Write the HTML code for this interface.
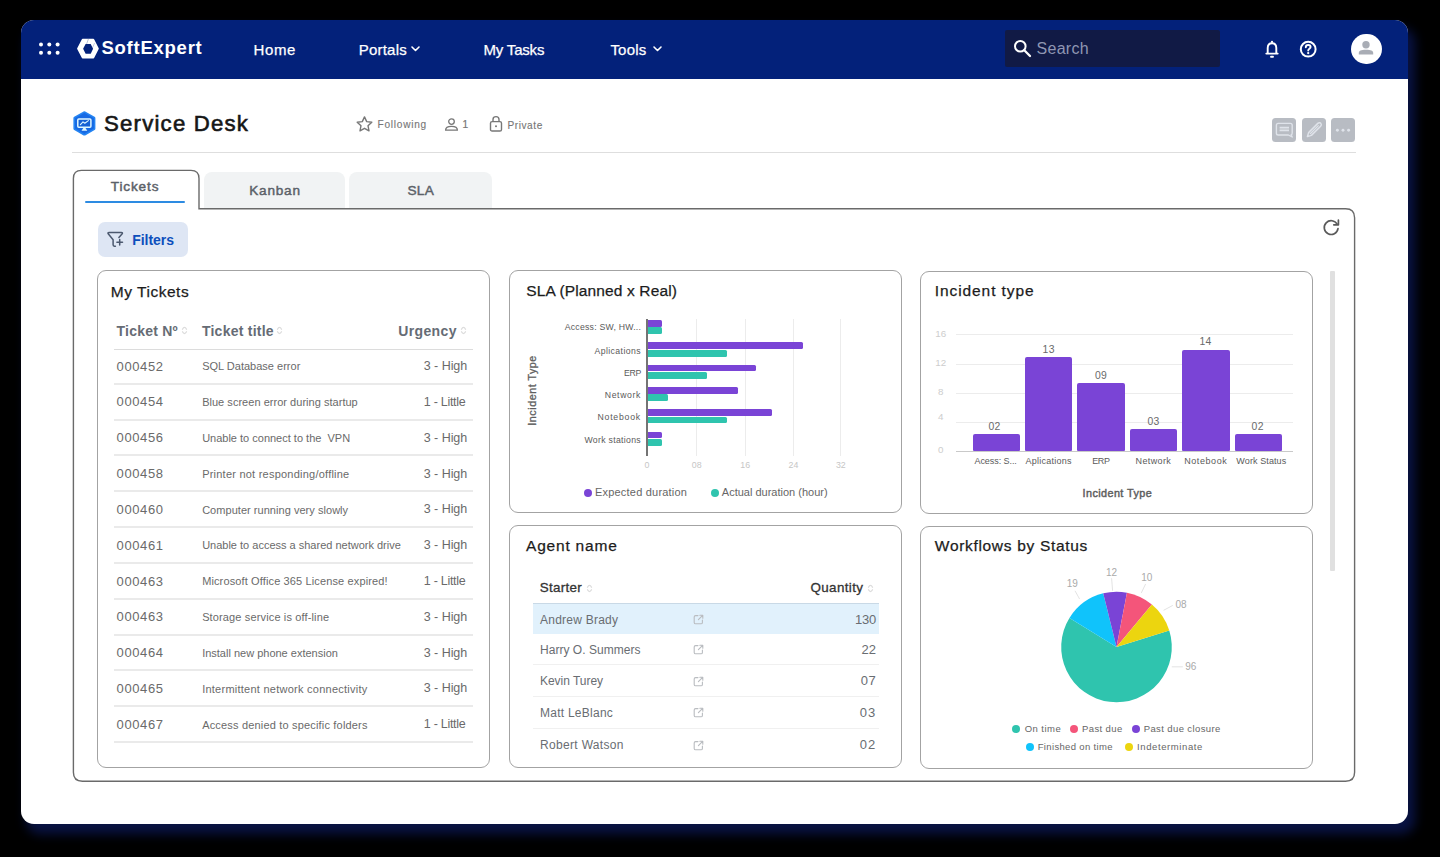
<!DOCTYPE html>
<html>
<head>
<meta charset="utf-8">
<title>Service Desk</title>
<style>
*{box-sizing:border-box;margin:0;padding:0}
html,body{width:1440px;height:857px;overflow:hidden;background:#000}
body{position:relative;font-family:"Liberation Sans",sans-serif;color:#222}
.abs{position:absolute}
svg{position:absolute;overflow:visible}
.win{position:absolute;left:21px;top:20px;width:1387px;height:804px;background:#fff;border-radius:13px;box-shadow:6px 9px 11px 1px rgba(9,20,72,.95)}
.nav{position:absolute;left:21px;top:20px;width:1387px;height:58.5px;background:#03217a;border-radius:13px 13px 0 0}
.t{position:absolute;white-space:pre;line-height:1}
.card{position:absolute;border:1.2px solid #a3a3a3;border-radius:9px;background:#fff}
.hl{position:absolute;height:1.4px;background:#e6e6e6}
.vl{position:absolute;width:1px;background:#ececec}
.bp{position:absolute;background:#7a44d6;border-radius:0 1.5px 1.5px 0}
.bt{position:absolute;background:#2fc4ae;border-radius:0 1.5px 1.5px 0}
.bv{position:absolute;background:#7a44d6;border-radius:2px 2px 1px 1px}
.dot{position:absolute;border-radius:50%}
</style>
</head>
<body>
<div class="win"></div>
<div class="nav"></div>
<svg style="left:38px;top:40px" width="24" height="16" viewBox="38 40 24 16"><g fill="#fff"><circle cx="41" cy="44.4" r="2"/><circle cx="49.3" cy="44.4" r="2"/><circle cx="57.6" cy="44.4" r="2"/><circle cx="41" cy="52.8" r="2"/><circle cx="49.3" cy="52.8" r="2"/><circle cx="57.6" cy="52.8" r="2"/></g></svg>
<svg style="left:0;top:0" width="120" height="80" viewBox="0 0 120 80"><path d="M77.9 48.6 L82.6 39.5 H93.4 L98 48.6 L93.4 57.7 H82.6 Z" fill="#fff" stroke="#fff" stroke-width="1.6" stroke-linejoin="round"/><path d="M83.1 48.8 L85.6 43.9 H90.7 L93.1 48.8 L90.7 53.7 H85.6 Z" fill="#03217a"/><path d="M86.6 44 L88.4 39" stroke="#03217a" stroke-width=".5" opacity=".55"/><path d="M92.6 47.6 L94.6 43" stroke="#03217a" stroke-width=".5" opacity=".45"/></svg>
<svg style="left:411px;top:46px" width="9" height="6" viewBox="0 0 9 6"><path d="M1 1 L4.5 4.5 L8 1" fill="none" stroke="#fff" stroke-width="1.6" stroke-linecap="round" stroke-linejoin="round"/></svg>
<svg style="left:653px;top:46px" width="9" height="6" viewBox="0 0 9 6"><path d="M1 1 L4.5 4.5 L8 1" fill="none" stroke="#fff" stroke-width="1.6" stroke-linecap="round" stroke-linejoin="round"/></svg>
<div class="abs" style="left:1005px;top:30px;width:215px;height:37px;background:#111a45;border-radius:2px"></div>
<svg style="left:1013px;top:39px" width="19" height="19" viewBox="0 0 19 19"><circle cx="7.3" cy="7.3" r="5.3" fill="none" stroke="#fff" stroke-width="2"/><path d="M11.3 11.3 L17 17" stroke="#fff" stroke-width="2.3" stroke-linecap="round"/></svg>
<svg style="left:1264px;top:40px" width="16" height="19" viewBox="0 0 16 19"><path d="M3.7 13.2 V8 C3.7 5 5.5 3.2 8 3.2 C10.5 3.2 12.3 5 12.3 8 V13.2 M2.3 13.6 H13.7" fill="none" stroke="#fff" stroke-width="1.9" stroke-linecap="round" stroke-linejoin="round"/><circle cx="8" cy="1.9" r="1.1" fill="#fff"/><path d="M7 16.8 H9" stroke="#fff" stroke-width="1.9" stroke-linecap="round"/></svg>
<svg style="left:1299px;top:39.6px" width="18" height="18" viewBox="0 0 18 18"><circle cx="9.2" cy="9.2" r="7.4" fill="none" stroke="#fff" stroke-width="2"/><path d="M6.8 7.3 C6.8 5.8 7.9 5 9.2 5 C10.6 5 11.6 5.9 11.6 7.1 C11.6 8.7 9.2 8.8 9.2 10.5" fill="none" stroke="#fff" stroke-width="1.9" stroke-linecap="round"/><circle cx="9.2" cy="13.1" r="1.15" fill="#fff"/></svg>
<div class="abs" style="left:1351px;top:33.5px;width:30.6px;height:30.6px;border-radius:50%;background:#fff"></div>
<svg style="left:1357.3px;top:40px" width="18" height="17" viewBox="0 0 18 17"><circle cx="9" cy="4.8" r="3.7" fill="#a9adb5"/><path d="M1.8 14.6 V13 C1.8 10.6 4 9.8 9 9.8 C14 9.8 16.2 10.6 16.2 13 V14.6 Z" fill="#a9adb5"/></svg>

<svg style="left:0;top:0" width="120" height="150" viewBox="0 0 120 150"><path d="M84.4 112.9 L93.8 118.2 V128.7 L84.4 134 L75 128.7 V118.2 Z" fill="#1a6ee6" stroke="#2484f2" stroke-width="3.2" stroke-linejoin="round"/><path d="M84.4 113.6 L93.2 118.6 V128.3 L84.4 133.3 L75.6 128.3 V118.6 Z" fill="#176ae4" stroke="#176ae4" stroke-width="1.2" stroke-linejoin="round"/><rect x="77.8" y="118.9" width="13.1" height="8.4" rx="1" fill="#1561d4" stroke="#dff7ff" stroke-width="1.5"/><path d="M80.4 124.6 L83 121.9 L84.8 123.3 L88.4 120.6" fill="none" stroke="#dff7ff" stroke-width="1.1" stroke-linecap="round" stroke-linejoin="round"/><path d="M83.3 128 H85.5 L87.3 130.8 H81.5 Z" fill="#dff7ff"/></svg>
<svg style="left:355px;top:115px" width="19" height="18" viewBox="0 0 19 18"><path d="M9.5 1.9 L11.7 6.6 L16.8 7.2 L13 10.7 L14 15.8 L9.5 13.3 L5 15.8 L6 10.7 L2.2 7.2 L7.3 6.6 Z" fill="none" stroke="#777" stroke-width="1.4" stroke-linejoin="round"/></svg>
<svg style="left:444px;top:117px" width="15" height="15" viewBox="0 0 15 15"><circle cx="7.5" cy="4.6" r="2.8" fill="none" stroke="#777" stroke-width="1.3"/><path d="M1.6 13.2 C1.6 10.4 3.6 9.4 7.5 9.4 C11.4 9.4 13.4 10.4 13.4 13.2 Z" fill="none" stroke="#777" stroke-width="1.3" stroke-linejoin="round"/></svg>
<svg style="left:489px;top:115px" width="14" height="18" viewBox="0 0 14 18"><rect x="1.5" y="6.6" width="11" height="9.4" rx="1.6" fill="none" stroke="#777" stroke-width="1.4"/><path d="M4 6.4 V4.4 C4 2.7 5.2 1.6 7 1.6 C8.8 1.6 10 2.7 10 4.4 V6.4" fill="none" stroke="#777" stroke-width="1.4"/><circle cx="7" cy="11.2" r="1" fill="#777"/></svg>
<div class="hl" style="left:72px;top:151.5px;width:1284px;background:#dedede;height:1.2px"></div>
<div class="abs" style="left:1271.5px;top:118px;width:24.3px;height:24px;border-radius:3.5px;background:#b8bcc3"></div>
<div class="abs" style="left:1301.5px;top:118px;width:24px;height:24px;border-radius:3.5px;background:#b8bcc3"></div>
<div class="abs" style="left:1331px;top:118px;width:24px;height:24px;border-radius:3.5px;background:#b8bcc3"></div>
<svg style="left:1271.5px;top:118px" width="24" height="24" viewBox="0 0 24 24"><path d="M6.2 5.4 H18.4 Q20.2 5.4 20.2 7.2 V15 Q20.2 16.6 19.2 16.8 L20.2 19 L16.4 17 H6.2 Q4.4 17 4.4 15.2 V7.2 Q4.4 5.4 6.2 5.4 Z" fill="none" stroke="#dfe3ea" stroke-width="1.4" stroke-linejoin="round"/><path d="M7.6 9.6 H17 M7.6 12.4 H17" stroke="#dfe3ea" stroke-width="1.7"/></svg>
<svg style="left:1301.5px;top:118px" width="24" height="24" viewBox="0 0 24 24"><path d="M5.4 18.6 L6.6 14.6 L15.8 5.4 C16.8 4.4 18.4 4.6 19 5.6 C19.6 6.4 19.4 7.4 18.6 8.2 L9.4 17.4 Z" fill="none" stroke="#dfe3ea" stroke-width="1.5" stroke-linejoin="round"/><path d="M8 16 L16.6 7.4" stroke="#dfe3ea" stroke-width="1.2"/></svg>
<svg style="left:1331px;top:118px" width="24" height="24" viewBox="0 0 24 24"><g fill="#dfe3ea"><circle cx="6.4" cy="12.2" r="1.45"/><circle cx="12" cy="12.2" r="1.45"/><circle cx="17.6" cy="12.2" r="1.45"/></g></svg>

<div class="abs" style="left:204.2px;top:172px;width:141.2px;height:36.5px;background:#f1f3f4;border-radius:8px 8px 0 0"></div>
<div class="abs" style="left:349.3px;top:172px;width:142.7px;height:36.5px;background:#f1f3f4;border-radius:8px 8px 0 0"></div>
<svg style="left:0;top:0" width="1440" height="857" viewBox="0 0 1440 857"><path d="M73.4 218 V178.4 Q73.4 170.4 81.4 170.4 H191 Q199 170.4 199 178.4 V208.7 H1345.6 Q1354.6 208.7 1354.6 217.7 V772.3 Q1354.6 781.3 1345.6 781.3 H82.4 Q73.4 781.3 73.4 772.3 Z" fill="#fff" stroke="#6a6a6a" stroke-width="1.4"/></svg>
<div class="abs" style="left:84.8px;top:200.5px;width:100.2px;height:2.4px;border-radius:1.2px;background:#2d8be2"></div>
<div class="abs" style="left:98.2px;top:221.6px;width:89.4px;height:35.8px;border-radius:7px;background:#dee6f4"></div>
<svg style="left:107px;top:231px" width="17" height="17" viewBox="0 0 17 17"><path d="M2.2 1.5 H14.2 Q16.2 1.5 15 3 L11.9 6.4 M2.2 1.5 Q0.2 1.5 1.4 3 L6.1 8.8 V13.8 Q6.1 15.2 7.4 15.2 H8.4" fill="none" stroke="#4b586e" stroke-width="1.5" stroke-linejoin="round" stroke-linecap="round"/><path d="M9.9 11.2 H15.5 M12.7 8.4 V14" stroke="#4b586e" stroke-width="1.5" stroke-linecap="round"/></svg>
<svg style="left:1322px;top:218px" width="19" height="19" viewBox="0 0 19 19"><path d="M15.2 6.2 A6.9 6.9 0 1 0 16 10.6" fill="none" stroke="#5a5a5a" stroke-width="1.7" stroke-linecap="round"/><path d="M16.4 2.2 V6.8 H11.8" fill="none" stroke="#5a5a5a" stroke-width="1.7" stroke-linecap="round" stroke-linejoin="round"/></svg>
<div class="abs" style="left:1329.8px;top:271.4px;width:5.6px;height:300px;background:#e0e0e0;border-radius:1px"></div>

<div class="card" style="left:96.8px;top:269.6px;width:392.8px;height:498.6px"></div>
<div class="hl" style="left:113.6px;top:348.6px;width:359.6px;background:#dcdcdc;height:1.6px"></div>
<div class="hl" style="left:113.6px;top:383px;width:359.6px;height:1.5px;background:#eaeaea"></div>
<div class="hl" style="left:113.6px;top:419px;width:359.6px;height:1.5px;background:#eaeaea"></div>
<div class="hl" style="left:113.6px;top:454px;width:359.6px;height:1.5px;background:#eaeaea"></div>
<div class="hl" style="left:113.6px;top:490px;width:359.6px;height:1.5px;background:#eaeaea"></div>
<div class="hl" style="left:113.6px;top:526px;width:359.6px;height:1.5px;background:#eaeaea"></div>
<div class="hl" style="left:113.6px;top:562px;width:359.6px;height:1.5px;background:#eaeaea"></div>
<div class="hl" style="left:113.6px;top:598px;width:359.6px;height:1.5px;background:#eaeaea"></div>
<div class="hl" style="left:113.6px;top:634px;width:359.6px;height:1.5px;background:#eaeaea"></div>
<div class="hl" style="left:113.6px;top:669px;width:359.6px;height:1.5px;background:#eaeaea"></div>
<div class="hl" style="left:113.6px;top:705px;width:359.6px;height:1.5px;background:#eaeaea"></div>
<div class="hl" style="left:113.6px;top:741px;width:359.6px;height:1.5px;background:#eaeaea"></div>
<svg style="left:180.5px;top:325.2px" width="7" height="11" viewBox="0 0 7 11"><path d="M1.5 4.2 Q3.5 0.6 5.5 4.2 M1.5 6.8 Q3.5 10.4 5.5 6.8" fill="none" stroke="#dcdcdc" stroke-width="1.3" stroke-linecap="round" stroke-linejoin="round"/></svg>
<svg style="left:276.3px;top:325.2px" width="7" height="11" viewBox="0 0 7 11"><path d="M1.5 4.2 Q3.5 0.6 5.5 4.2 M1.5 6.8 Q3.5 10.4 5.5 6.8" fill="none" stroke="#dcdcdc" stroke-width="1.3" stroke-linecap="round" stroke-linejoin="round"/></svg>
<svg style="left:459.5px;top:325.2px" width="7" height="11" viewBox="0 0 7 11"><path d="M1.5 4.2 Q3.5 0.6 5.5 4.2 M1.5 6.8 Q3.5 10.4 5.5 6.8" fill="none" stroke="#dcdcdc" stroke-width="1.3" stroke-linecap="round" stroke-linejoin="round"/></svg>

<div class="card" style="left:508.6px;top:269.6px;width:393.6px;height:243.2px"></div>
<div class="vl" style="left:696.2px;top:319px;height:137px"></div>
<div class="vl" style="left:744.7px;top:319px;height:137px"></div>
<div class="vl" style="left:793.0px;top:319px;height:137px"></div>
<div class="vl" style="left:840.3px;top:319px;height:137px"></div>
<div class="bp" style="left:647.4px;top:320.0px;width:14.4px;height:6.9px"></div>
<div class="bt" style="left:647.4px;top:327.4px;width:14.4px;height:6.9px"></div>
<div class="bp" style="left:647.4px;top:342.3px;width:155.5px;height:6.9px"></div>
<div class="bt" style="left:647.4px;top:349.7px;width:79.6px;height:6.9px"></div>
<div class="bp" style="left:647.4px;top:364.6px;width:108.4px;height:6.9px"></div>
<div class="bt" style="left:647.4px;top:372.0px;width:59.6px;height:6.9px"></div>
<div class="bp" style="left:647.4px;top:386.9px;width:90.2px;height:6.9px"></div>
<div class="bt" style="left:647.4px;top:394.3px;width:21.0px;height:6.9px"></div>
<div class="bp" style="left:647.4px;top:409.2px;width:124.2px;height:6.9px"></div>
<div class="bt" style="left:647.4px;top:416.6px;width:79.6px;height:6.9px"></div>
<div class="bp" style="left:647.4px;top:431.5px;width:14.4px;height:6.9px"></div>
<div class="bt" style="left:647.4px;top:438.9px;width:14.4px;height:6.9px"></div>
<div class="abs" style="left:646px;top:319px;width:1.8px;height:137.4px;background:#747474"></div>
<div class="dot" style="left:583.7px;top:489.1px;width:8px;height:8px;background:#7a44d6"></div>
<div class="dot" style="left:711.2px;top:489.1px;width:8px;height:8px;background:#2fc4ae"></div>
<div class="t" style="left:481.9px;top:385px;width:100px;text-align:center;font-size:10.8px;color:#5e5e5e;letter-spacing:.5px;-webkit-text-stroke:.3px #5e5e5e;transform:rotate(-90deg);transform-origin:50% 50%">Incident Type</div>

<div class="card" style="left:919.6px;top:270.8px;width:393.4px;height:243.2px"></div>
<div class="hl" style="left:956.4px;top:334.4px;width:336.4px;height:1px;background:#ececec"></div>
<div class="hl" style="left:956.4px;top:364.3px;width:336.4px;height:1px;background:#ececec"></div>
<div class="hl" style="left:956.4px;top:393.3px;width:336.4px;height:1px;background:#ececec"></div>
<div class="hl" style="left:956.4px;top:422.3px;width:336.4px;height:1px;background:#ececec"></div>
<div class="hl" style="left:956.4px;top:451.1px;width:336.4px;height:1.2px;background:#c9c9c9"></div>
<div class="bv" style="left:972.6px;top:434.2px;width:47.4px;height:17.0px"></div>
<div class="bv" style="left:1025.2px;top:357.2px;width:47.3px;height:94.0px"></div>
<div class="bv" style="left:1077.4px;top:383.4px;width:47.4px;height:67.8px"></div>
<div class="bv" style="left:1130px;top:429px;width:47.3px;height:22.2px"></div>
<div class="bv" style="left:1182.2px;top:349.5px;width:47.4px;height:101.7px"></div>
<div class="bv" style="left:1234.5px;top:434.2px;width:47.3px;height:17.0px"></div>

<div class="card" style="left:508.6px;top:524.6px;width:393.6px;height:243.4px"></div>
<div class="abs" style="left:533.4px;top:604px;width:345.2px;height:30px;background:#e1f1fc"></div>
<div class="hl" style="left:533.4px;top:603.2px;width:345.2px;height:1.3px;background:#c9d9e6"></div>
<div class="hl" style="left:533.4px;top:664.1px;width:345.2px;height:1.2px;background:#f0f0f0"></div>
<div class="hl" style="left:533.4px;top:696.0px;width:345.2px;height:1.2px;background:#f0f0f0"></div>
<div class="hl" style="left:533.4px;top:727.9px;width:345.2px;height:1.2px;background:#f0f0f0"></div>
<svg style="left:586px;top:582.5px" width="7" height="11" viewBox="0 0 7 11"><path d="M1.5 4.2 Q3.5 0.6 5.5 4.2 M1.5 6.8 Q3.5 10.4 5.5 6.8" fill="none" stroke="#dcdcdc" stroke-width="1.3" stroke-linecap="round" stroke-linejoin="round"/></svg>
<svg style="left:866.5px;top:582.5px" width="7" height="11" viewBox="0 0 7 11"><path d="M1.5 4.2 Q3.5 0.6 5.5 4.2 M1.5 6.8 Q3.5 10.4 5.5 6.8" fill="none" stroke="#dcdcdc" stroke-width="1.3" stroke-linecap="round" stroke-linejoin="round"/></svg>
<svg style="left:692.5px;top:614.2px" width="11" height="11" viewBox="0 0 11 11"><path d="M5 1.6 H2.6 Q1.2 1.6 1.2 3 V8.4 Q1.2 9.8 2.6 9.8 H8 Q9.4 9.8 9.4 8.4 V6" fill="none" stroke="#b9bcc0" stroke-width="1.1" stroke-linecap="round"/><path d="M6.8 1.2 H9.8 V4.2 M9.6 1.4 L5.4 5.6" fill="none" stroke="#b9bcc0" stroke-width="1.1" stroke-linecap="round" stroke-linejoin="round"/></svg>
<svg style="left:692.5px;top:643.9px" width="11" height="11" viewBox="0 0 11 11"><path d="M5 1.6 H2.6 Q1.2 1.6 1.2 3 V8.4 Q1.2 9.8 2.6 9.8 H8 Q9.4 9.8 9.4 8.4 V6" fill="none" stroke="#b9bcc0" stroke-width="1.1" stroke-linecap="round"/><path d="M6.8 1.2 H9.8 V4.2 M9.6 1.4 L5.4 5.6" fill="none" stroke="#b9bcc0" stroke-width="1.1" stroke-linecap="round" stroke-linejoin="round"/></svg>
<svg style="left:692.5px;top:675.5px" width="11" height="11" viewBox="0 0 11 11"><path d="M5 1.6 H2.6 Q1.2 1.6 1.2 3 V8.4 Q1.2 9.8 2.6 9.8 H8 Q9.4 9.8 9.4 8.4 V6" fill="none" stroke="#b9bcc0" stroke-width="1.1" stroke-linecap="round"/><path d="M6.8 1.2 H9.8 V4.2 M9.6 1.4 L5.4 5.6" fill="none" stroke="#b9bcc0" stroke-width="1.1" stroke-linecap="round" stroke-linejoin="round"/></svg>
<svg style="left:692.5px;top:707.4px" width="11" height="11" viewBox="0 0 11 11"><path d="M5 1.6 H2.6 Q1.2 1.6 1.2 3 V8.4 Q1.2 9.8 2.6 9.8 H8 Q9.4 9.8 9.4 8.4 V6" fill="none" stroke="#b9bcc0" stroke-width="1.1" stroke-linecap="round"/><path d="M6.8 1.2 H9.8 V4.2 M9.6 1.4 L5.4 5.6" fill="none" stroke="#b9bcc0" stroke-width="1.1" stroke-linecap="round" stroke-linejoin="round"/></svg>
<svg style="left:692.5px;top:739.5px" width="11" height="11" viewBox="0 0 11 11"><path d="M5 1.6 H2.6 Q1.2 1.6 1.2 3 V8.4 Q1.2 9.8 2.6 9.8 H8 Q9.4 9.8 9.4 8.4 V6" fill="none" stroke="#b9bcc0" stroke-width="1.1" stroke-linecap="round"/><path d="M6.8 1.2 H9.8 V4.2 M9.6 1.4 L5.4 5.6" fill="none" stroke="#b9bcc0" stroke-width="1.1" stroke-linecap="round" stroke-linejoin="round"/></svg>

<div class="card" style="left:919.6px;top:525.8px;width:393.4px;height:243.2px"></div>
<svg style="left:0;top:0" width="1440" height="857" viewBox="0 0 1440 857"><g stroke="#dcdcdc" stroke-width=".8" fill="none"><path d="M1079.6 599.0 L1075.0 590.8"/><path d="M1112.6 590.8 L1111.6 578.2"/><path d="M1141.3 592.9 L1145.6 584.0"/><path d="M1163.6 610.3 L1172.8 605.4"/><path d="M1171.8 666.8 L1182.8 666.8"/></g></svg>
<svg style="left:0;top:0" width="1440" height="857" viewBox="0 0 1440 857"><path d="M1116.5 647 L1169.27 630.46 A55.3 55.3 0 1 1 1069.45 617.94 Z" fill="#2fc4ae"/><path d="M1116.5 647 L1069.45 617.94 A55.3 55.3 0 0 1 1103.22 593.32 Z" fill="#10c3fb"/><path d="M1116.5 647 L1103.22 593.32 A55.3 55.3 0 0 1 1126.96 592.70 Z" fill="#7a44d6"/><path d="M1116.5 647 L1126.96 592.70 A55.3 55.3 0 0 1 1151.90 604.51 Z" fill="#f4557a"/><path d="M1116.5 647 L1151.90 604.51 A55.3 55.3 0 0 1 1169.27 630.46 Z" fill="#ecd50f"/></svg>
<div class="dot" style="left:1012.3px;top:725.2px;width:8px;height:8px;background:#2fc4ae"></div>
<div class="dot" style="left:1070.4px;top:725.2px;width:8px;height:8px;background:#f4557a"></div>
<div class="dot" style="left:1132.4px;top:725.2px;width:8px;height:8px;background:#7a44d6"></div>
<div class="dot" style="left:1025.5px;top:742.9px;width:8px;height:8px;background:#10c3fb"></div>
<div class="dot" style="left:1125.4px;top:742.9px;width:8px;height:8px;background:#ecd50f"></div>

<div class="t" style="left:101.39px;top:38.74px;font-size:18.5px;color:#fff;font-weight:bold;letter-spacing:0.76px;">SoftExpert</div>
<div class="t" style="left:253.60px;top:42.05px;font-size:15px;color:#fff;letter-spacing:0.57px;-webkit-text-stroke:0.25px #fff;">Home</div>
<div class="t" style="left:358.70px;top:42.05px;font-size:15px;color:#fff;letter-spacing:0.23px;-webkit-text-stroke:0.25px #fff;">Portals</div>
<div class="t" style="left:483.50px;top:42.05px;font-size:15px;color:#fff;letter-spacing:-0.19px;-webkit-text-stroke:0.25px #fff;">My Tasks</div>
<div class="t" style="left:610.40px;top:42.05px;font-size:15px;color:#fff;letter-spacing:0.21px;-webkit-text-stroke:0.25px #fff;">Tools</div>
<div class="t" style="left:1036.54px;top:41.06px;font-size:16px;color:#8f96b3;letter-spacing:0.29px;">Search</div>
<div class="t" style="left:104.07px;top:112.81px;font-size:22.2px;color:#161616;letter-spacing:1.20px;-webkit-text-stroke:0.6px #161616;">Service Desk</div>
<div class="t" style="left:377.59px;top:120.25px;font-size:10.1px;color:#777;letter-spacing:0.74px;-webkit-text-stroke:0.12px #777;">Following</div>
<div class="t" style="left:462.59px;top:120.45px;font-size:10.1px;color:#777;letter-spacing:-1.00px;-webkit-text-stroke:0.2px #777;">1</div>
<div class="t" style="left:507.39px;top:121.05px;font-size:10.1px;color:#777;letter-spacing:0.58px;-webkit-text-stroke:0.12px #777;">Private</div>
<div class="t" style="left:110.78px;top:180.39px;font-size:13.6px;color:#5b6168;letter-spacing:0.86px;-webkit-text-stroke:0.45px #5b6168;">Tickets</div>
<div class="t" style="left:249.18px;top:184.09px;font-size:13.6px;color:#5b6168;letter-spacing:0.79px;-webkit-text-stroke:0.45px #5b6168;">Kanban</div>
<div class="t" style="left:407.38px;top:184.09px;font-size:13.6px;color:#5b6168;letter-spacing:0.38px;-webkit-text-stroke:0.45px #5b6168;">SLA</div>
<div class="t" style="left:132.16px;top:233.45px;font-size:14px;color:#0d4fbc;font-weight:bold;letter-spacing:-0.03px;">Filters</div>
<div class="t" style="left:110.87px;top:283.88px;font-size:15.5px;color:#1c1c1c;letter-spacing:0.51px;-webkit-text-stroke:0.25px #1c1c1c;">My Tickets</div>
<div class="t" style="left:526.27px;top:283.08px;font-size:15.5px;color:#1c1c1c;letter-spacing:0.13px;-webkit-text-stroke:0.25px #1c1c1c;">SLA (Planned x Real)</div>
<div class="t" style="left:934.87px;top:283.18px;font-size:15.5px;color:#1c1c1c;letter-spacing:0.90px;-webkit-text-stroke:0.25px #1c1c1c;">Incident type</div>
<div class="t" style="left:526.07px;top:538.18px;font-size:15.5px;color:#1c1c1c;letter-spacing:0.79px;-webkit-text-stroke:0.25px #1c1c1c;">Agent name</div>
<div class="t" style="left:934.87px;top:538.18px;font-size:15.5px;color:#1c1c1c;letter-spacing:0.68px;-webkit-text-stroke:0.25px #1c1c1c;">Workflows by Status</div>
<div class="t" style="left:116.56px;top:323.75px;font-size:14px;color:#666c75;font-weight:bold;letter-spacing:0.22px;">Ticket Nº</div>
<div class="t" style="left:201.96px;top:323.75px;font-size:14px;color:#666c75;font-weight:bold;letter-spacing:0.24px;">Ticket title</div>
<div class="t" style="left:398.16px;top:323.75px;font-size:14px;color:#666c75;font-weight:bold;letter-spacing:0.38px;">Urgency</div>
<div class="t" style="left:116.62px;top:359.60px;font-size:13px;color:#6a6a6a;letter-spacing:0.59px;">000452</div>
<div class="t" style="left:202.14px;top:361.29px;font-size:11px;color:#6a6a6a;letter-spacing:0.01px;">SQL Database error</div>
<div class="t" style="left:423.75px;top:360.02px;font-size:12.5px;color:#6a6a6a;letter-spacing:-0.04px;">3 - High</div>
<div class="t" style="left:116.62px;top:395.43px;font-size:13px;color:#6a6a6a;letter-spacing:0.59px;">000454</div>
<div class="t" style="left:202.14px;top:397.12px;font-size:11px;color:#6a6a6a;letter-spacing:0.03px;">Blue screen error during startup</div>
<div class="t" style="left:423.75px;top:395.85px;font-size:12.5px;color:#6a6a6a;letter-spacing:-0.27px;">1 - Little</div>
<div class="t" style="left:116.62px;top:431.26px;font-size:13px;color:#6a6a6a;letter-spacing:0.59px;">000456</div>
<div class="t" style="left:202.14px;top:432.95px;font-size:11px;color:#6a6a6a;">Unable to connect to the  VPN</div>
<div class="t" style="left:423.75px;top:431.68px;font-size:12.5px;color:#6a6a6a;letter-spacing:-0.04px;">3 - High</div>
<div class="t" style="left:116.62px;top:467.09px;font-size:13px;color:#6a6a6a;letter-spacing:0.59px;">000458</div>
<div class="t" style="left:202.14px;top:468.78px;font-size:11px;color:#6a6a6a;letter-spacing:0.23px;">Printer not responding/offline</div>
<div class="t" style="left:423.75px;top:467.51px;font-size:12.5px;color:#6a6a6a;letter-spacing:-0.04px;">3 - High</div>
<div class="t" style="left:116.62px;top:502.92px;font-size:13px;color:#6a6a6a;letter-spacing:0.59px;">000460</div>
<div class="t" style="left:202.14px;top:504.61px;font-size:11px;color:#6a6a6a;letter-spacing:0.04px;">Computer running very slowly</div>
<div class="t" style="left:423.75px;top:503.34px;font-size:12.5px;color:#6a6a6a;letter-spacing:-0.04px;">3 - High</div>
<div class="t" style="left:116.62px;top:538.75px;font-size:13px;color:#6a6a6a;letter-spacing:0.59px;">000461</div>
<div class="t" style="left:202.14px;top:540.44px;font-size:11px;color:#6a6a6a;">Unable to access a shared network drive</div>
<div class="t" style="left:423.75px;top:539.17px;font-size:12.5px;color:#6a6a6a;letter-spacing:-0.04px;">3 - High</div>
<div class="t" style="left:116.62px;top:574.58px;font-size:13px;color:#6a6a6a;letter-spacing:0.59px;">000463</div>
<div class="t" style="left:202.14px;top:576.27px;font-size:11px;color:#6a6a6a;letter-spacing:0.13px;">Microsoft Office 365 License expired!</div>
<div class="t" style="left:423.75px;top:575.00px;font-size:12.5px;color:#6a6a6a;letter-spacing:-0.27px;">1 - Little</div>
<div class="t" style="left:116.62px;top:610.41px;font-size:13px;color:#6a6a6a;letter-spacing:0.59px;">000463</div>
<div class="t" style="left:202.14px;top:612.10px;font-size:11px;color:#6a6a6a;letter-spacing:0.14px;">Storage service is off-line</div>
<div class="t" style="left:423.75px;top:610.83px;font-size:12.5px;color:#6a6a6a;letter-spacing:-0.04px;">3 - High</div>
<div class="t" style="left:116.62px;top:646.24px;font-size:13px;color:#6a6a6a;letter-spacing:0.59px;">000464</div>
<div class="t" style="left:202.14px;top:647.93px;font-size:11px;color:#6a6a6a;">Install new phone extension</div>
<div class="t" style="left:423.75px;top:646.66px;font-size:12.5px;color:#6a6a6a;letter-spacing:-0.04px;">3 - High</div>
<div class="t" style="left:116.62px;top:682.07px;font-size:13px;color:#6a6a6a;letter-spacing:0.59px;">000465</div>
<div class="t" style="left:202.14px;top:683.76px;font-size:11px;color:#6a6a6a;letter-spacing:0.25px;">Intermittent network connectivity</div>
<div class="t" style="left:423.75px;top:682.49px;font-size:12.5px;color:#6a6a6a;letter-spacing:-0.04px;">3 - High</div>
<div class="t" style="left:116.62px;top:717.90px;font-size:13px;color:#6a6a6a;letter-spacing:0.59px;">000467</div>
<div class="t" style="left:202.14px;top:719.59px;font-size:11px;color:#6a6a6a;letter-spacing:0.18px;">Access denied to specific folders</div>
<div class="t" style="left:423.75px;top:718.32px;font-size:12.5px;color:#6a6a6a;letter-spacing:-0.27px;">1 - Little</div>
<div class="t" style="left:564.78px;top:323.14px;font-size:8.7px;color:#5a5a5a;letter-spacing:0.23px;">Access: SW, HW...</div>
<div class="t" style="left:594.48px;top:346.74px;font-size:8.7px;color:#5a5a5a;letter-spacing:0.41px;">Aplications</div>
<div class="t" style="left:623.88px;top:368.94px;font-size:8.7px;color:#5a5a5a;letter-spacing:-0.24px;">ERP</div>
<div class="t" style="left:604.78px;top:391.04px;font-size:8.7px;color:#5a5a5a;letter-spacing:0.62px;">Network</div>
<div class="t" style="left:597.48px;top:413.24px;font-size:8.7px;color:#5a5a5a;letter-spacing:0.79px;">Notebook</div>
<div class="t" style="left:584.48px;top:436.04px;font-size:8.7px;color:#5a5a5a;letter-spacing:0.31px;">Work stations</div>
<div class="t" style="left:496.90px;width:300px;text-align:center;top:461.25px;font-size:8.8px;color:#c6c6c6;">0</div>
<div class="t" style="left:546.70px;width:300px;text-align:center;top:461.25px;font-size:8.8px;color:#c6c6c6;">08</div>
<div class="t" style="left:595.20px;width:300px;text-align:center;top:461.25px;font-size:8.8px;color:#c6c6c6;">16</div>
<div class="t" style="left:643.50px;width:300px;text-align:center;top:461.25px;font-size:8.8px;color:#c6c6c6;">24</div>
<div class="t" style="left:690.80px;width:300px;text-align:center;top:461.25px;font-size:8.8px;color:#c6c6c6;">32</div>
<div class="t" style="left:594.94px;top:487.29px;font-size:11px;color:#666;letter-spacing:0.21px;">Expected duration</div>
<div class="t" style="left:721.84px;top:487.29px;font-size:11px;color:#666;">Actual duration (hour)</div>
<div class="t" style="left:790.80px;width:300px;text-align:center;top:328.50px;font-size:9.8px;color:#cdcdcd;">16</div>
<div class="t" style="left:790.80px;width:300px;text-align:center;top:357.90px;font-size:9.8px;color:#cdcdcd;">12</div>
<div class="t" style="left:790.80px;width:300px;text-align:center;top:387.20px;font-size:9.8px;color:#cdcdcd;">8</div>
<div class="t" style="left:790.80px;width:300px;text-align:center;top:412.20px;font-size:9.8px;color:#cdcdcd;">4</div>
<div class="t" style="left:790.80px;width:300px;text-align:center;top:444.60px;font-size:9.8px;color:#cdcdcd;">0</div>
<div class="t" style="left:844.60px;width:300px;text-align:center;top:421.50px;font-size:10.4px;color:#6a6a6a;letter-spacing:.3px;">02</div>
<div class="t" style="left:898.70px;width:300px;text-align:center;top:345.40px;font-size:10.4px;color:#6a6a6a;letter-spacing:.3px;">13</div>
<div class="t" style="left:951.00px;width:300px;text-align:center;top:371.10px;font-size:10.4px;color:#6a6a6a;letter-spacing:.3px;">09</div>
<div class="t" style="left:1003.50px;width:300px;text-align:center;top:416.90px;font-size:10.4px;color:#6a6a6a;letter-spacing:.3px;">03</div>
<div class="t" style="left:1055.50px;width:300px;text-align:center;top:336.60px;font-size:10.4px;color:#6a6a6a;letter-spacing:.3px;">14</div>
<div class="t" style="left:1107.70px;width:300px;text-align:center;top:421.50px;font-size:10.4px;color:#6a6a6a;letter-spacing:.3px;">02</div>
<div class="t" style="left:974.46px;top:457.08px;font-size:9px;color:#5a5a5a;letter-spacing:-0.06px;">Acess: S...</div>
<div class="t" style="left:1025.56px;top:457.08px;font-size:9px;color:#5a5a5a;letter-spacing:0.25px;">Aplications</div>
<div class="t" style="left:1092.16px;top:457.08px;font-size:9px;color:#5a5a5a;letter-spacing:-0.31px;">ERP</div>
<div class="t" style="left:1135.56px;top:457.08px;font-size:9px;color:#5a5a5a;letter-spacing:0.37px;">Network</div>
<div class="t" style="left:1184.16px;top:457.08px;font-size:9px;color:#5a5a5a;letter-spacing:0.58px;">Notebook</div>
<div class="t" style="left:1236.36px;top:457.08px;font-size:9px;color:#5a5a5a;letter-spacing:0.10px;">Work Status</div>
<div class="t" style="left:1082.55px;top:487.86px;font-size:10.8px;color:#5e5e5e;letter-spacing:0.43px;-webkit-text-stroke:0.45px #5e5e5e;">Incident Type</div>
<div class="t" style="left:539.80px;top:581.06px;font-size:13.4px;color:#333;letter-spacing:0.30px;-webkit-text-stroke:0.3px #333;">Starter</div>
<div class="t" style="left:810.40px;top:581.06px;font-size:13.4px;color:#333;letter-spacing:0.40px;-webkit-text-stroke:0.3px #333;">Quantity</div>
<div class="t" style="left:539.98px;top:613.84px;font-size:12px;color:#696d72;letter-spacing:0.24px;">Andrew Brady</div>
<div class="t" style="left:854.92px;top:613.00px;font-size:13px;color:#696d72;letter-spacing:-0.15px;">130</div>
<div class="t" style="left:539.98px;top:643.54px;font-size:12px;color:#696d72;letter-spacing:0.04px;">Harry O. Summers</div>
<div class="t" style="left:861.52px;top:642.70px;font-size:13px;color:#696d72;letter-spacing:0.10px;">22</div>
<div class="t" style="left:539.98px;top:675.14px;font-size:12px;color:#696d72;letter-spacing:-0.03px;">Kevin Turey</div>
<div class="t" style="left:860.72px;top:674.30px;font-size:13px;color:#696d72;letter-spacing:0.50px;">07</div>
<div class="t" style="left:539.98px;top:707.04px;font-size:12px;color:#696d72;letter-spacing:0.26px;">Matt LeBlanc</div>
<div class="t" style="left:859.72px;top:706.20px;font-size:13px;color:#696d72;letter-spacing:1.00px;">03</div>
<div class="t" style="left:539.98px;top:739.14px;font-size:12px;color:#696d72;letter-spacing:0.33px;">Robert Watson</div>
<div class="t" style="left:859.72px;top:738.30px;font-size:13px;color:#696d72;letter-spacing:1.00px;">02</div>
<div class="t" style="left:961.60px;width:300px;text-align:center;top:568.03px;font-size:10px;color:#aaa;">12</div>
<div class="t" style="left:996.80px;width:300px;text-align:center;top:573.23px;font-size:10px;color:#aaa;">10</div>
<div class="t" style="left:922.20px;width:300px;text-align:center;top:579.03px;font-size:10px;color:#aaa;">19</div>
<div class="t" style="left:1031.00px;width:300px;text-align:center;top:599.53px;font-size:10px;color:#aaa;">08</div>
<div class="t" style="left:1040.80px;width:300px;text-align:center;top:662.13px;font-size:10px;color:#aaa;">96</div>
<div class="t" style="left:1024.63px;top:724.46px;font-size:9.5px;color:#666;letter-spacing:0.47px;">On time</div>
<div class="t" style="left:1082.03px;top:724.46px;font-size:9.5px;color:#666;letter-spacing:0.38px;">Past due</div>
<div class="t" style="left:1143.73px;top:724.46px;font-size:9.5px;color:#666;letter-spacing:0.39px;">Past due closure</div>
<div class="t" style="left:1037.73px;top:742.16px;font-size:9.5px;color:#666;letter-spacing:0.34px;">Finished on time</div>
<div class="t" style="left:1137.03px;top:742.16px;font-size:9.5px;color:#666;letter-spacing:0.60px;">Indeterminate</div>
</body>
</html>
